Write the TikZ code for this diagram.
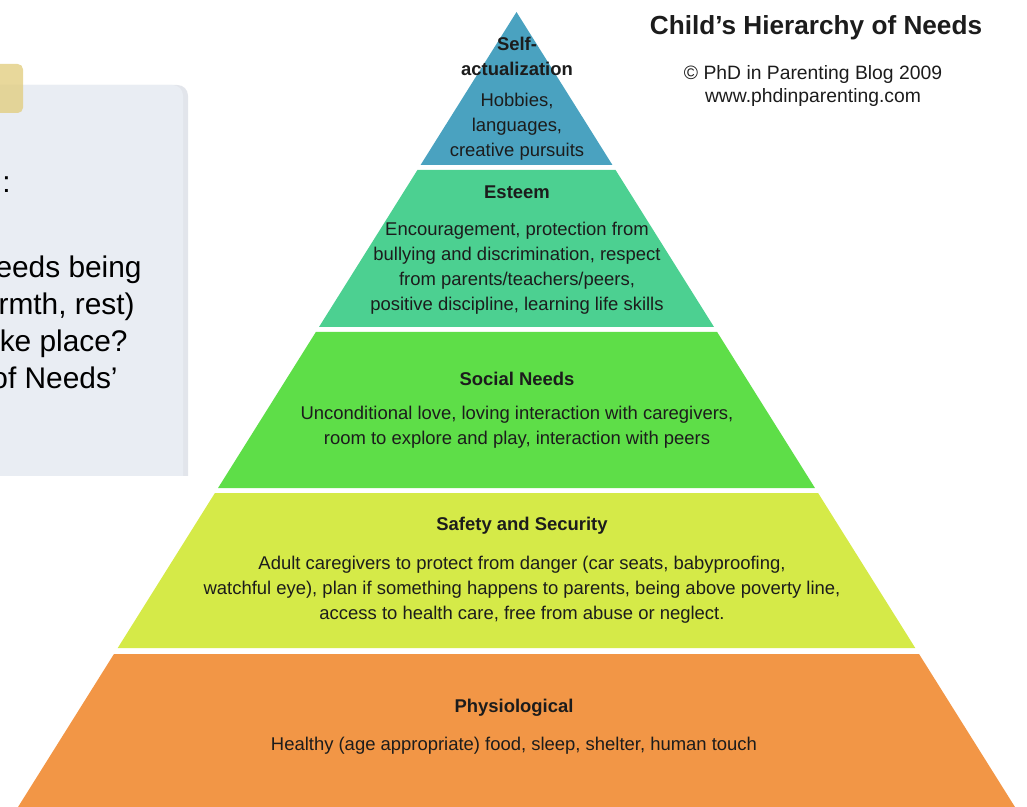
\documentclass[tikz,border=0pt]{standalone}
\usepackage{fontspec}
\setmainfont{Liberation Sans}
\usepackage{tikz}
\usetikzlibrary{shapes}

\definecolor{capblue}{RGB}{74,162,192}
\definecolor{esteemgreen}{RGB}{76,208,145}
\definecolor{socialgreen}{RGB}{94,222,72}
\definecolor{safetylime}{RGB}{213,234,72}
\definecolor{physorange}{RGB}{242,150,70}
\definecolor{panelgrey}{RGB}{233,237,243}
\definecolor{paneledge}{RGB}{226,229,235}
\definecolor{tabgold}{RGB}{226,206,130}
\definecolor{inktext}{RGB}{28,28,28}

\begin{document}
\begin{tikzpicture}[x=0.02cm, y=-0.02cm,
  tiertext/.style={inktext, align=center,
    font=\fontsize{10.5}{14.2}\selectfont},
  tierhead/.style={tiertext,
    font=\fontsize{10.5}{14.2}\selectfont\bfseries},
  cardtext/.style={black, anchor=base east, inner sep=0pt,
    font=\fontsize{17}{22}\selectfont}]
\useasboundingbox (0,0) rectangle (1027,807);

% question card, cut off at the left
\begin{scope}
\clip (0,0) rectangle (195,475);
\fill[paneledge, rounded corners=6] (-20,85) rectangle (188,520);
\fill[panelgrey, rounded corners=6] (-20,85) rectangle (183,520);
\end{scope}
\fill[tabgold, fill opacity=0.8, rounded corners=3] (-10,64) rectangle (23,113);

\node[cardtext] (Q0) at (11,193) {:};
\node[cardtext] (Q1) at (142,278) {eeds being};
\node[cardtext] (Q2) at (135,315) {rmth, rest)};
\node[cardtext] (Q3) at (128,352) {ke place?};
\node[cardtext] (Q4) at (118,388) {of Needs’};

% pyramid layers
\foreach \t/\b/\c in {12/165/capblue, 170/327/esteemgreen,
    332/488/socialgreen, 493/648/safetylime, 654/807/physorange}
  \fill[\c] ({516.5-0.627*(\t-12)},\t) -- ({516.5+0.627*(\t-12)},\t)
    -- ({516.5+0.627*(\b-12)},\b) -- ({516.5-0.627*(\b-12)},\b) -- cycle;

\node[tierhead] (selfhead) at (517,56) {Self-\\actualization};
\node[tiertext] (selfbody) at (517,127)
  {Hobbies,\\languages,\\creative pursuits};

\node[tierhead] (esteemhead) at (517,192) {Esteem};
\node[tiertext] (esteembody) at (517,268)
  {Encouragement, protection from\\
   bullying and discrimination, respect\\
   from parents/teachers/peers,\\
   positive discipline, learning life skills};

\node[tierhead] (socialhead) at (517,379) {Social Needs};
\node[tiertext] (socialbody) at (517,427)
  {Unconditional love, loving interaction with caregivers,\\
   room to explore and play, interaction with peers};

\node[tierhead] (safetyhead) at (522,526) {Safety and Security};
\node[tiertext] (safetybody) at (522,590)
  {Adult caregivers to protect from danger (car seats, babyproofing,\\
   watchful eye), plan if something happens to parents, being above poverty line,\\
   access to health care, free from abuse or neglect.};

\node[tierhead] (physhead) at (514,708) {Physiological};
\node[tiertext] (physbody) at (514,746)
  {Healthy (age appropriate) food, sleep, shelter, human touch};

% title block
\node[inktext, font=\fontsize{14.9}{18}\selectfont\bfseries] (title)
  at (816,28) {Child’s Hierarchy of Needs};
\node[inktext, align=center, font=\fontsize{11}{13.1}\selectfont] (credit)
  at (813,86) {© PhD in Parenting Blog 2009\\www.phdinparenting.com};
\end{tikzpicture}
\end{document}
